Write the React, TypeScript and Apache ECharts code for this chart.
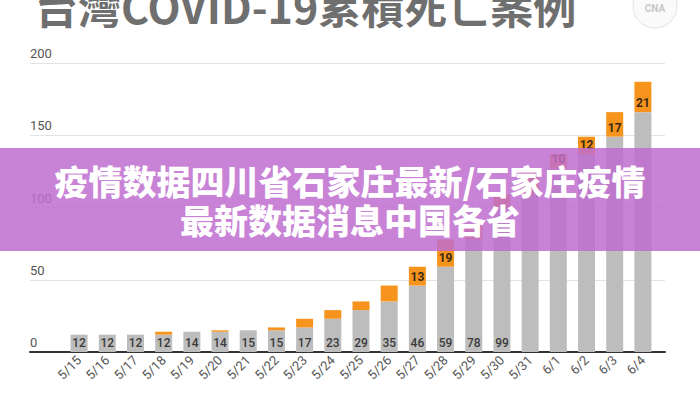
import React, { useEffect, useRef } from "react";
import * as echarts from "echarts";

const categories = ["5/15","5/16","5/17","5/18","5/19","5/20","5/21","5/22","5/23","5/24","5/25","5/26","5/27","5/28","5/29","5/30","5/31","6/1","6/2","6/3","6/4"];
const baseValues = [12,12,12,12,14,14,15,15,17,23,29,35,46,59,78,99,109,127,137,149,166];
const newValues = [0,0,0,2,0,1,0,2,6,6,6,11,13,19,10,10,18,10,12,17,21];
const baseLabelShown = [true,true,true,true,true,true,true,true,true,true,true,true,true,true,true,true,false,false,false,false,false];
const newLabelShown = [false,false,false,false,false,false,false,false,false,false,false,false,true,true,false,false,false,true,true,true,true];
const yTicks = { min: 0, max: 200, interval: 50 };
const titleText = "台灣COVID-19累積死亡案例";
const bannerLine1 = "疫情数据四川省石家庄最新/石家庄疫情";
const bannerLine2 = "最新数据消息中国各省";

export default function App() {
  const ref = useRef<HTMLDivElement>(null);
  useEffect(() => {
    if (!ref.current) return;
    const chart = echarts.init(ref.current, null, { renderer: "svg" });
    const top = 63;
    const bottom = 48;
    chart.setOption({
      animation: false,
      backgroundColor: "#ffffff",
      grid: [
        { left: 30, right: 35, top, bottom },
        { left: 65, right: 43, top, bottom },
      ],
      xAxis: [
        {
          type: "value",
          gridIndex: 0,
          min: 0,
          max: 1,
          axisLine: { show: true, onZero: false, lineStyle: { color: "#333", width: 2 } },
          axisTick: { show: false },
          axisLabel: { show: false },
          splitLine: { show: false },
        },
        {
          type: "category",
          gridIndex: 1,
          data: categories,
          axisLine: { show: false },
          axisTick: { show: false },
          axisLabel: {
            interval: 0,
            rotate: 45,
            margin: 6,
            fontSize: 13,
            color: "#555",
            fontFamily: "Roboto, sans-serif",
          },
        },
      ],
      yAxis: [
        {
          type: "value",
          gridIndex: 0,
          min: yTicks.min,
          max: yTicks.max,
          interval: yTicks.interval,
          axisLine: { show: false },
          axisTick: { show: false },
          axisLabel: {
            inside: true,
            margin: 0,
            verticalAlign: "bottom",
            padding: [0, 0, 3, 0],
            fontSize: 13,
            color: "#555",
            fontFamily: "Roboto, sans-serif",
          },
          splitLine: { show: true, lineStyle: { color: "#e3e3e3", width: 1 } },
        },
        {
          type: "value",
          gridIndex: 1,
          min: yTicks.min,
          max: yTicks.max,
          interval: yTicks.interval,
          show: false,
          splitLine: { show: false },
        },
      ],
      series: [
        {
          type: "bar",
          xAxisIndex: 1,
          yAxisIndex: 1,
          stack: "total",
          barWidth: 17,
          itemStyle: { color: "#bdbdbd" },
          data: baseValues.map((v, i) => ({
            value: v,
            label: {
              show: baseLabelShown[i],
              position: "insideBottom",
              distance: 3,
              fontSize: 12,
              color: "#3a3a3a",
              fontFamily: "Roboto, sans-serif",
              fontWeight: 500,
            },
          })),
        },
        {
          type: "bar",
          xAxisIndex: 1,
          yAxisIndex: 1,
          stack: "total",
          barWidth: 17,
          itemStyle: { color: "#f7941d" },
          data: newValues.map((v, i) => ({
            value: v,
            label: {
              show: newLabelShown[i],
              position: "insideBottom",
              distance: 3,
              fontSize: 12,
              color: "#3a2a14",
              fontFamily: "Roboto, sans-serif",
              fontWeight: "bold",
            },
          })),
        },
      ],
      graphic: [
        {
          type: "text",
          z: 100,
          left: 35,
          top: -17,
          style: {
            text: titleText,
            fontSize: 43,
            fontWeight: "bold",
            fontFamily: "Noto Sans CJK TC, Noto Sans, sans-serif",
            fill: "#6f6f6f",
          },
        },
        {
          type: "circle",
          z: 100,
          shape: { cx: 655, cy: 6, r: 22 },
          style: { fill: "#fafafa", stroke: "#e2e2e2", lineWidth: 1 },
        },
        {
          type: "text",
          z: 101,
          x: 655,
          y: 8,
          style: {
            text: "CNA",
            fontSize: 10,
            fontWeight: "bold",
            fill: "#c8c8c8",
            align: "center",
            verticalAlign: "middle",
            fontFamily: "Roboto, sans-serif",
          },
        },
        {
          type: "rect",
          z: 200,
          shape: { x: 0, y: 148, width: 700, height: 103 },
          style: { fill: "rgba(190,109,207,0.85)" },
        },
        {
          type: "text",
          z: 201,
          x: 350,
          y: 180,
          style: {
            text: bannerLine1,
            fontSize: 34,
            fontWeight: 900,
            fontFamily: "Noto Sans CJK SC, sans-serif",
            fill: "#ffffff",
            align: "center",
            verticalAlign: "middle",
          },
        },
        {
          type: "text",
          z: 201,
          x: 350,
          y: 219,
          style: {
            text: bannerLine2,
            fontSize: 34,
            fontWeight: 900,
            fontFamily: "Noto Sans CJK SC, sans-serif",
            fill: "#ffffff",
            align: "center",
            verticalAlign: "middle",
          },
        },
      ],
    });
    return () => chart.dispose();
  }, []);
  return (
    <div
      ref={ref}
      style={{ position: "fixed", left: 0, top: 0, width: 700, height: 400 }}
    />
  );
}
